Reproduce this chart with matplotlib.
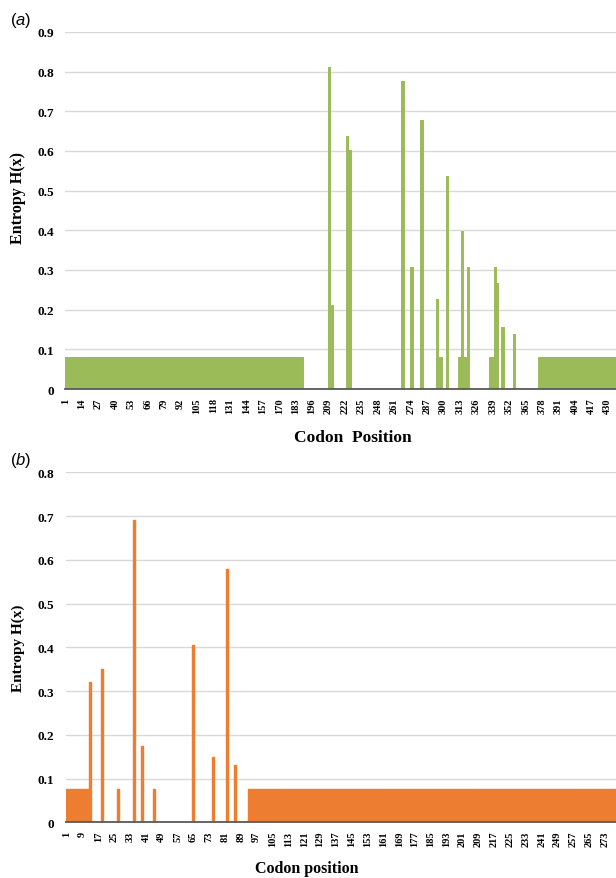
import numpy as np
import matplotlib
matplotlib.use('Agg')
import matplotlib.pyplot as plt

plt.rcParams['font.family'] = 'Liberation Serif'
plt.rcParams['mathtext.fontset'] = 'custom'
plt.rcParams['mathtext.rm'] = 'Liberation Sans'
plt.rcParams['mathtext.it'] = 'Liberation Sans:italic'

# ---- data, panel (a) ----
a_n_codons = 436
a_base_value = 0.078
a_base_ranges = [(1, 188), (376, 436)]
a_peak_pos = [210, 212, 224, 226, 268, 275, 283, 295, 298, 303,
              313, 315, 317, 318, 320,
              337, 338, 339, 340, 341, 343, 347, 356]
a_peak_val = [0.81, 0.21, 0.635, 0.60, 0.775, 0.305, 0.675, 0.225, 0.078, 0.535,
              0.078, 0.395, 0.078, 0.078, 0.305,
              0.078, 0.078, 0.078, 0.078, 0.305, 0.265, 0.155, 0.135]
a_tick_step = 13

# ---- data, panel (b) ----
b_n_codons = 278
b_base_value = 0.076
b_base_ranges = [(1, 12), (93, 278)]
b_peak_pos = [13, 19, 27, 35, 39, 45, 65, 75, 82, 86]
b_peak_val = [0.32, 0.35, 0.076, 0.69, 0.175, 0.076, 0.405, 0.15, 0.58, 0.13]
b_tick_step = 8

GREEN = '#9BBB59'
ORANGE = '#ED7D31'


def entropy_series(n, base_value, base_ranges, peak_pos, peak_val):
    pos = np.arange(1, n + 1)
    vals = np.zeros(n)
    for lo, hi in base_ranges:
        vals[lo - 1:hi] = base_value
    for p, v in zip(peak_pos, peak_val):
        vals[p - 1] = v
    return pos, vals


def draw_panel(ax, pos, vals, color, ymax, tick_step, lw):
    mask = vals > 0
    ax.bar(pos[mask], vals[mask], width=1.0, color=color, edgecolor=color,
           linewidth=lw, zorder=2)
    ax.set_xlim(0.5, len(pos) + 0.5)
    ax.set_ylim(0, ymax)
    ax.set_yticks(np.round(np.arange(0, ymax + 0.001, 0.1), 1))
    ax.set_yticklabels(['0'] + [f'{t:.1f}' for t in np.arange(0.1, ymax + 0.001, 0.1)],
                       fontsize=9.5, fontweight='bold')
    xt = np.arange(1, len(pos) + 1, tick_step)
    ax.set_xticks(xt)
    ax.set_xticklabels([str(t) for t in xt], rotation=90, fontsize=7.5, fontweight='bold')
    ax.tick_params(axis='y', length=0, pad=8)
    ax.tick_params(axis='x', length=0, pad=6)
    ax.yaxis.grid(True, color='#D9D9D9', linewidth=1.0, zorder=0)
    ax.set_axisbelow(True)
    for s in ['top', 'right', 'left']:
        ax.spines[s].set_visible(False)
    ax.spines['bottom'].set_color('#595959')
    ax.spines['bottom'].set_linewidth(1.3)
    ax.spines['bottom'].set_zorder(3)


fig = plt.figure(figsize=(6.16, 8.79), dpi=100)

ax_a = fig.add_axes([0.1055, 0.5563, 0.8945, 0.4062])
pos_a, vals_a = entropy_series(a_n_codons, a_base_value, a_base_ranges, a_peak_pos, a_peak_val)
draw_panel(ax_a, pos_a, vals_a, GREEN, 0.9, a_tick_step, 1.4)

ax_b = fig.add_axes([0.1067, 0.0634, 0.8933, 0.3981])
pos_b, vals_b = entropy_series(b_n_codons, b_base_value, b_base_ranges, b_peak_pos, b_peak_val)
draw_panel(ax_b, pos_b, vals_b, ORANGE, 0.8, b_tick_step, 1.0)

W, H = 616, 879
fig.text(10 / W, 1 - 20 / H, r'($\mathit{a}$)', fontsize=12, family='Liberation Sans',
         ha='left', va='center')
fig.text(10 / W, 1 - 460 / H, r'($\mathit{b}$)', fontsize=12, family='Liberation Sans',
         ha='left', va='center')

fig.text(18 / W, 1 - 198 / H, 'Entropy H(x)', rotation=90, fontsize=11.5,
         fontweight='bold', ha='center', va='center')
fig.text(18 / W, 1 - 648 / H, 'Entropy H(x)', rotation=90, fontsize=11,
         fontweight='bold', ha='center', va='center')
fig.text(353 / W, 1 - 438 / H, 'Codon  Position', fontsize=12.5,
         fontweight='bold', ha='center', va='center')
fig.text(307 / W, 1 - 869 / H, 'Codon position', fontsize=11.5,
         fontweight='bold', ha='center', va='center')

fig.savefig('out.png', dpi=100)
